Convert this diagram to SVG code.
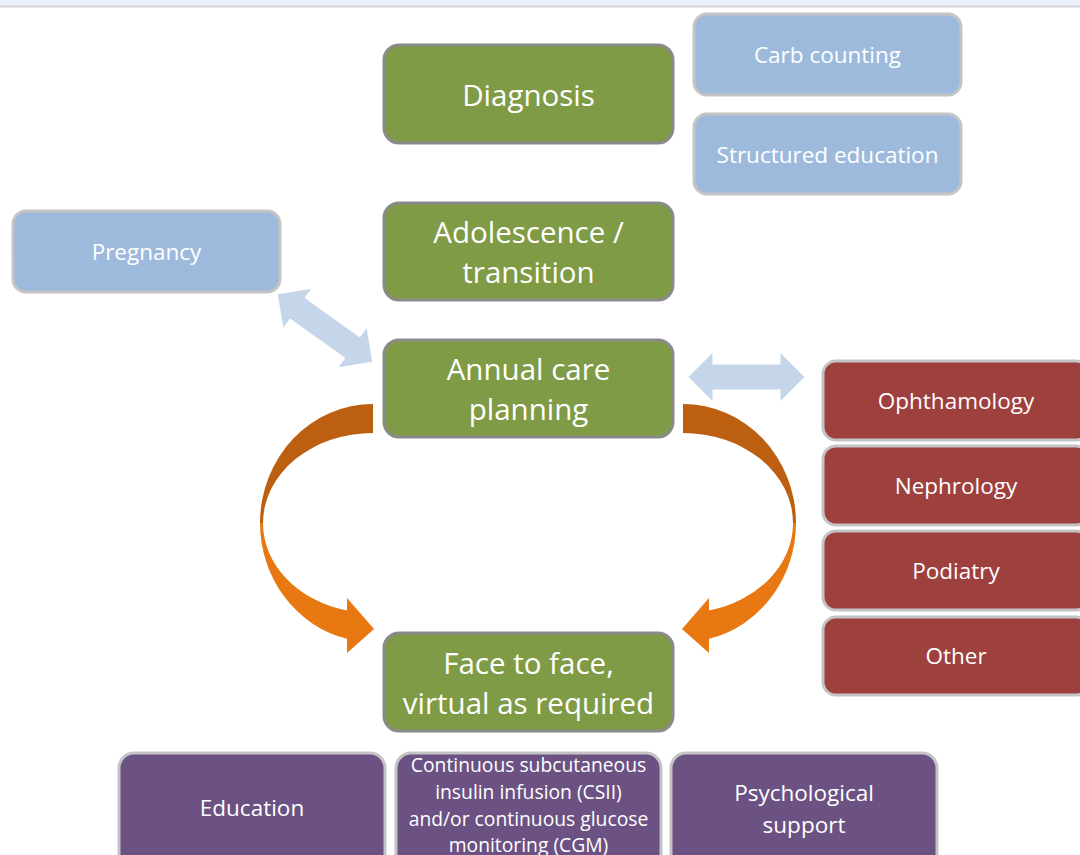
<svg xmlns="http://www.w3.org/2000/svg" width="1080" height="855" viewBox="0 0 1080 855">
<style>
.g{fill:#7f9b46;stroke:#8a8a8a;stroke-width:3}
.b{fill:#9dbadc;stroke:#c4c4c4;stroke-width:3}
.r{fill:#9e403e;stroke:#c4c4c4;stroke-width:3}
.p{fill:#6b5283;stroke:#c4c4c4;stroke-width:3}
text{font-family:"Open Sans","Liberation Sans",sans-serif;fill:#ffffff;text-anchor:middle}
.tg{font-size:29.5px}
.tb{font-size:22.5px}
.tp{font-size:19.3px}
</style>
<defs>
<g id="curve">
<path d="M373,404 A113,119 0 0 0 260,523 L263,523 A110,90 0 0 1 373,433 Z" fill="#bd5f10"/>
<path d="M260,523 A113,119 0 0 0 347,638.8 L347,653 L374,629 L347,598 L347,610.6 A110,90 0 0 1 263,523 Z" fill="#e87811"/>
</g>
<polygon id="dbl" points="-58,0 -34,-24 -34,-12.5 34,-12.5 34,-24 58,0 34,24 34,12.5 -34,12.5 -34,24" fill="#c5d6ea"/>
</defs>
<rect x="0" y="0" width="1080" height="5.5" fill="#e9f1fa"/>
<rect x="0" y="5.5" width="1080" height="2" fill="#d3d3d3"/>
<g id="connectors">
<use href="#curve"/>
<use href="#curve" transform="translate(1056,0) scale(-1,1)"/>
<use href="#dbl" transform="translate(325,328) rotate(35.5)"/>
<use href="#dbl" transform="translate(746.5,377)"/>
</g>
<g id="diagnosis"><rect class="g" x="384" y="45" width="289" height="98" rx="15"/><text class="tg" x="528.5" y="106">Diagnosis</text></g>
<g id="adolescence"><rect class="g" x="384" y="203" width="289" height="97" rx="15"/><text class="tg" x="528.5" y="243">Adolescence /</text><text class="tg" x="528.5" y="283">transition</text></g>
<g id="annual"><rect class="g" x="384" y="340" width="289" height="97" rx="15"/><text class="tg" x="528.5" y="380">Annual care</text><text class="tg" x="528.5" y="420">planning</text></g>
<g id="face"><rect class="g" x="384" y="633" width="289" height="98" rx="15"/><text class="tg" x="528.5" y="674">Face to face,</text><text class="tg" x="528.5" y="714">virtual as required</text></g>
<g id="carb"><rect class="b" x="694" y="14" width="267" height="81" rx="13"/><text class="tb" x="827.5" y="63">Carb counting</text></g>
<g id="structured"><rect class="b" x="694" y="114" width="267" height="80" rx="13"/><text class="tb" x="827.5" y="163">Structured education</text></g>
<g id="pregnancy"><rect class="b" x="13" y="211" width="267" height="81" rx="13"/><text class="tb" x="146.5" y="260">Pregnancy</text></g>
<g id="ophthamology"><rect class="r" x="823" y="361" width="266" height="79" rx="13"/><text class="tb" x="956" y="409">Ophthamology</text></g>
<g id="nephrology"><rect class="r" x="823" y="446" width="266" height="79" rx="13"/><text class="tb" x="956" y="494">Nephrology</text></g>
<g id="podiatry"><rect class="r" x="823" y="531" width="266" height="79" rx="13"/><text class="tb" x="956" y="579">Podiatry</text></g>
<g id="other"><rect class="r" x="823" y="617" width="266" height="78" rx="13"/><text class="tb" x="956" y="664">Other</text></g>
<g id="education"><rect class="p" x="119" y="753" width="266" height="120" rx="15"/><text class="tb" x="252" y="816">Education</text></g>
<g id="csii"><rect class="p" x="396" y="753" width="265" height="120" rx="15"/><text class="tp" x="528.5" y="772">Continuous subcutaneous</text><text class="tp" x="528.5" y="799">insulin infusion (CSII)</text><text class="tp" x="528.5" y="826">and/or continuous glucose</text><text class="tp" x="528.5" y="852">monitoring (CGM)</text></g>
<g id="psych"><rect class="p" x="671" y="753" width="266" height="120" rx="15"/><text class="tb" x="804" y="801">Psychological</text><text class="tb" x="804" y="833">support</text></g>
</svg>
